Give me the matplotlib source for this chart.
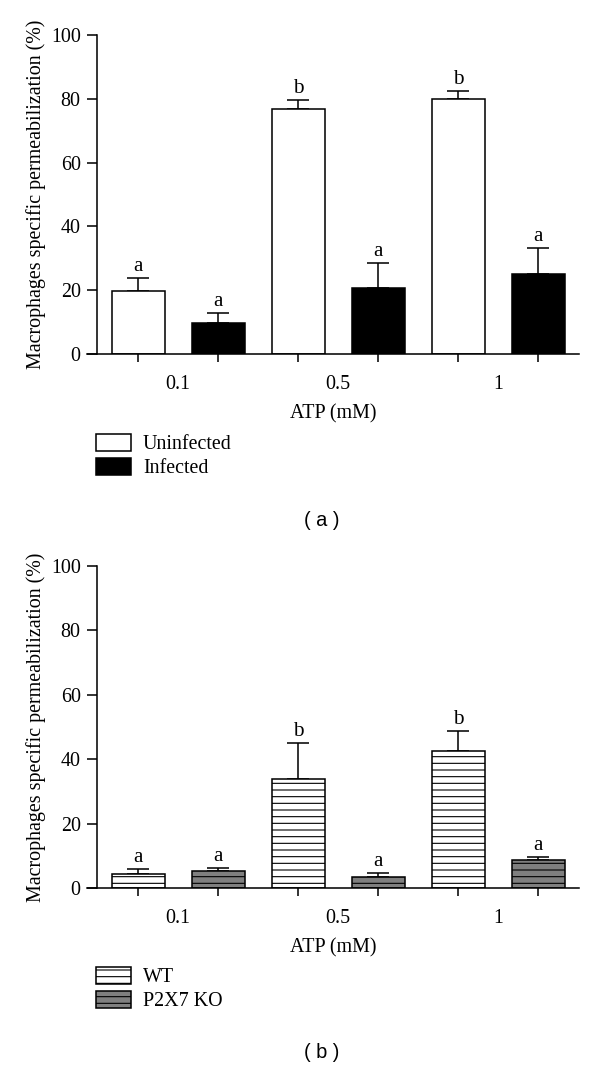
import numpy as np
import matplotlib
matplotlib.use("Agg")
import matplotlib.pyplot as plt
from matplotlib.patches import Patch

# dados
doses = ["0.1", "0.5", "1"]

uninf_mean = [19.7, 76.8, 79.9]
uninf_err = [4.1, 2.8, 2.5]
uninf_letters = ["a", "b", "b"]
inf_mean = [9.7, 20.7, 25.1]
inf_err = [3.1, 7.8, 8.1]
inf_letters = ["a", "a", "a"]

wt_mean = [4.3, 33.8, 42.5]
wt_err = [1.6, 11.2, 6.3]
wt_letters = ["a", "b", "b"]
ko_mean = [5.3, 3.4, 8.7]
ko_err = [0.9, 1.3, 0.9]
ko_letters = ["a", "a", "a"]

plt.rcParams['font.family'] = ['Liberation Serif', 'DejaVu Serif']
plt.rcParams['hatch.linewidth'] = 1.0

DPI = 80
fig = plt.figure(figsize=(600 / DPI, 1067 / DPI), dpi=DPI)

FS = 18
LW = 1.4


def draw_panel(ax, series, ylabel="Macrophages specific permeabilization (%)"):
    """Desenha um painel de barras agrupadas ao estilo Prism."""
    n = len(doses)
    for j, s in enumerate(series):
        xs = np.arange(n) * 2 + j
        ax.bar(xs, s['mean'], width=0.66, facecolor=s['face'], edgecolor='black',
               linewidth=LW, hatch=s['hatch'], zorder=2)
        ax.errorbar(xs, s['mean'], yerr=[np.zeros(n), s['err']], fmt='none',
                    ecolor='black', elinewidth=LW, capsize=10, capthick=LW, zorder=1)
        for x, m, e, let in zip(xs, s['mean'], s['err'], s['letters']):
            ax.annotate(let, (x, m + e), xytext=(0, 2), textcoords='offset points',
                        ha='center', va='bottom', fontsize=19)

    ax.set_ylim(0, 100)
    ax.set_xlim(-0.64, 5.51)
    ax.spines['top'].set_visible(False)
    ax.spines['right'].set_visible(False)
    ax.spines['left'].set_position(('data', -0.51))
    ax.spines['left'].set_linewidth(LW)
    ax.spines['bottom'].set_linewidth(LW)
    ax.set_yticks(np.arange(0, 101, 20))
    ax.tick_params(axis='y', length=9, width=LW, pad=6, labelsize=FS)

    # ticks no centro das barras, rótulos entre cada par
    ax.set_xticks(np.arange(2 * n))
    ax.set_xticklabels([])
    ax.tick_params(axis='x', which='major', length=7, width=LW)
    ax.set_xticks(np.arange(n) * 2 + 0.5, minor=True)
    ax.set_xticklabels(doses, minor=True)
    ax.tick_params(axis='x', which='minor', length=0, pad=19, labelsize=FS)

    ax.set_xlabel("ATP (mM)", fontsize=FS, labelpad=9)
    ax.set_ylabel(ylabel, fontsize=FS, labelpad=4)


# painel (a)
ax1 = fig.add_axes([87 / 600, 1 - 354 / 1067, 492 / 600, 319 / 1067])
series_a = [
    dict(mean=uninf_mean, err=uninf_err, letters=uninf_letters, face='white', hatch=None),
    dict(mean=inf_mean, err=inf_err, letters=inf_letters, face='black', hatch=None),
]
draw_panel(ax1, series_a)

leg_a = [Patch(facecolor='white', edgecolor='black', linewidth=LW, label='Uninfected'),
         Patch(facecolor='black', edgecolor='black', linewidth=LW, label='Infected')]
fig.legend(handles=leg_a, loc='upper left', bbox_to_anchor=(96 / 600, 1 - 434 / 1067),
           frameon=False, fontsize=FS, handlelength=1.75, handleheight=0.9,
           handletextpad=0.6, labelspacing=0.2, borderpad=0, borderaxespad=0)

fig.text(322 / 600, 1 - 520 / 1067, "( a )", family='Liberation Sans', fontsize=18,
         ha='center', va='center')

# painel (b)
ax2 = fig.add_axes([87 / 600, 1 - 888 / 1067, 492 / 600, 322 / 1067])
series_b = [
    dict(mean=wt_mean, err=wt_err, letters=wt_letters, face='white', hatch='--'),
    dict(mean=ko_mean, err=ko_err, letters=ko_letters, face='#7f7f7f', hatch='--'),
]
draw_panel(ax2, series_b)

leg_b = [Patch(facecolor='white', edgecolor='black', linewidth=LW, hatch='--', label='WT'),
         Patch(facecolor='#7f7f7f', edgecolor='black', linewidth=LW, hatch='--', label='P2X7 KO')]
fig.legend(handles=leg_b, loc='upper left', bbox_to_anchor=(96 / 600, 1 - 967 / 1067),
           frameon=False, fontsize=FS, handlelength=1.75, handleheight=0.9,
           handletextpad=0.6, labelspacing=0.2, borderpad=0, borderaxespad=0)

fig.text(322 / 600, 1 - 1053 / 1067, "( b )", family='Liberation Sans', fontsize=18,
         ha='center', va='center')

fig.savefig("out.png", dpi=DPI)
